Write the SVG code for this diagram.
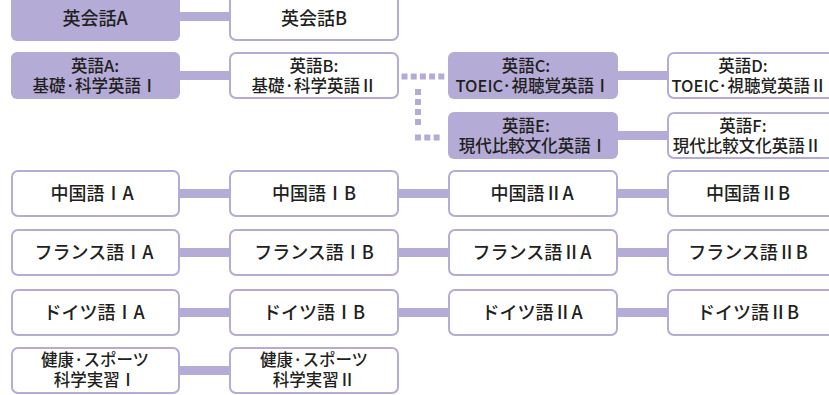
<svg xmlns="http://www.w3.org/2000/svg" width="829" height="395" viewBox="0 0 829 395">
<style>
.f{fill:#b4acd7}
.o{fill:#fff;stroke:#b4acd7;stroke-width:2}
.c{stroke:#b4acd7;stroke-width:9;fill:none}
.d{fill:#b4acd7}
text{font-family:"Noto Sans CJK JP","Noto Sans",sans-serif;font-size:18px;font-weight:500;fill:#231f20;text-anchor:middle}
text.m{font-size:16.5px}
</style>
<rect width="829" height="395" fill="#fff"/>
<g id="connectors">
<path class="c" d="M180 16.5H230M180 75.5H230M618 75.5H668M618 135.5H668M180 193.5H230M399 193.5H449M618 193.5H668M180 252.5H230M399 252.5H449M618 252.5H668M180 312.5H230M399 312.5H449M618 312.5H668M180 370.5H230"/>
<g class="d">
<rect x="401.5" y="73.5" width="6" height="6"/>
<rect x="410.7" y="73.5" width="6" height="6"/>
<rect x="419.9" y="73.5" width="6" height="6"/>
<rect x="429.1" y="73.5" width="6" height="6"/>
<rect x="438.3" y="73.5" width="6" height="6"/>
<rect x="415" y="89" width="6" height="6"/>
<rect x="415" y="99" width="6" height="6"/>
<rect x="415" y="109" width="6" height="6"/>
<rect x="415" y="119" width="6" height="6"/>
<rect x="415" y="134.5" width="6" height="6"/>
<rect x="424.3" y="134.5" width="6" height="6"/>
<rect x="433.6" y="134.5" width="6" height="6"/>
</g>
</g>
<g id="n-eikaiwaA"><rect class="f" x="11" y="-7" width="169" height="48" rx="6"/><text x="95" y="25">英会話A</text></g>
<g id="n-eikaiwaB"><rect class="o" x="230" y="-6" width="168" height="46" rx="6"/><text x="314" y="25">英会話B</text></g>
<g id="n-eigoA"><rect class="f" x="11" y="52" width="169" height="47" rx="6"/><text class="m" x="95" y="72">英語A:<tspan x="95" dy="20">基礎·科学英語Ⅰ</tspan></text></g>
<g id="n-eigoB"><rect class="o" x="230" y="53" width="168" height="45" rx="6"/><text class="m" x="314" y="72">英語B:<tspan x="314" dy="20">基礎·科学英語Ⅱ</tspan></text></g>
<g id="n-eigoC"><rect class="f" x="448" y="52" width="170" height="47" rx="6"/><text class="m" x="526" y="72">英語C:</text><text class="m" x="533" y="92">TOEIC·視聴覚英語Ⅰ</text></g>
<g id="n-eigoD"><rect class="o" x="668" y="53" width="170" height="45" rx="6"/><text class="m" x="743" y="72">英語D:</text><text class="m" x="749" y="92">TOEIC·視聴覚英語Ⅱ</text></g>
<g id="n-eigoE"><rect class="f" x="448" y="112" width="170" height="47" rx="6"/><text class="m" x="526" y="132">英語E:</text><text class="m" x="533" y="152">現代比較文化英語Ⅰ</text></g>
<g id="n-eigoF"><rect class="o" x="668" y="113" width="170" height="45" rx="6"/><text class="m" x="743" y="132">英語F:</text><text class="m" x="747" y="152">現代比較文化英語Ⅱ</text></g>
<g id="n-chuIA"><rect class="o" x="12" y="171" width="167" height="45" rx="6"/><text x="92" y="200">中国語ⅠA</text></g>
<g id="n-chuIB"><rect class="o" x="230" y="171" width="168" height="45" rx="6"/><text x="314" y="200">中国語ⅠB</text></g>
<g id="n-chuIIA"><rect class="o" x="449" y="171" width="168" height="45" rx="6"/><text x="532" y="200">中国語ⅡA</text></g>
<g id="n-chuIIB"><rect class="o" x="668" y="171" width="170" height="45" rx="6"/><text x="748" y="200">中国語ⅡB</text></g>
<g id="n-frIA"><rect class="o" x="12" y="230" width="167" height="45" rx="6"/><text x="94" y="259">フランス語ⅠA</text></g>
<g id="n-frIB"><rect class="o" x="230" y="230" width="168" height="45" rx="6"/><text x="314" y="259">フランス語ⅠB</text></g>
<g id="n-frIIA"><rect class="o" x="449" y="230" width="168" height="45" rx="6"/><text x="532" y="259">フランス語ⅡA</text></g>
<g id="n-frIIB"><rect class="o" x="668" y="230" width="170" height="45" rx="6"/><text x="748" y="259">フランス語ⅡB</text></g>
<g id="n-deIA"><rect class="o" x="12" y="290" width="167" height="45" rx="6"/><text x="94" y="319">ドイツ語ⅠA</text></g>
<g id="n-deIB"><rect class="o" x="230" y="290" width="168" height="45" rx="6"/><text x="314" y="319">ドイツ語ⅠB</text></g>
<g id="n-deIIA"><rect class="o" x="449" y="290" width="168" height="45" rx="6"/><text x="532" y="319">ドイツ語ⅡA</text></g>
<g id="n-deIIB"><rect class="o" x="668" y="290" width="170" height="45" rx="6"/><text x="748" y="319">ドイツ語ⅡB</text></g>
<g id="n-kenkoI"><rect class="o" x="12" y="348" width="167" height="45" rx="6"/><text class="m" x="95" y="366">健康·スポーツ<tspan x="95" dy="20">科学実習Ⅰ</tspan></text></g>
<g id="n-kenkoII"><rect class="o" x="230" y="348" width="168" height="45" rx="6"/><text class="m" x="314" y="366">健康·スポーツ<tspan x="314" dy="20">科学実習Ⅱ</tspan></text></g>
</svg>
